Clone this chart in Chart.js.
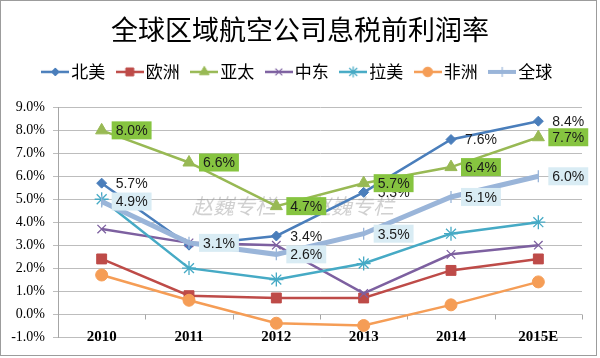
<!DOCTYPE html>
<html><head><meta charset="utf-8">
<script src="https://cdn.jsdelivr.net/npm/chart.js@4/dist/chart.umd.min.js"></script>
<style>html,body{margin:0;padding:0;background:#fff}#wrap{width:600px;height:358px}</style>
</head><body><div id="wrap"><canvas id="c" width="600" height="358"></canvas></div>
<script>
const categories = ['2010','2011','2012','2013','2014','2015E'];
const seriesNames = ['北美','欧洲','亚太','中东','拉美','非洲','全球'];
const northAmerica = [5.7, 3.0, 3.4, 5.3, 7.6, 8.4];
const europe       = [2.4, 0.8, 0.7, 0.7, 1.9, 2.4];
const asiaPacific  = [8.0, 6.6, 4.7, 5.7, 6.4, 7.7];
const middleEast   = [3.7, 3.1, 3.0, 0.9, 2.6, 3.0];
const latinAmerica = [5.0, 2.0, 1.5, 2.2, 3.5, 4.0];
const africa       = [1.7, 0.6, -0.4, -0.5, 0.4, 1.4];
const world        = [4.9, 3.1, 2.6, 3.5, 5.1, 6.0];
const yTicks = [-1,0,1,2,3,4,5,6,7,8,9];
const titleText = '全球区域航空公司息税前利润率';
const watermark = '赵巍专栏';

const seriesValues = [northAmerica, europe, asiaPacific, middleEast, latinAmerica, africa, world];
const colors = ['#4a7ebb','#be4b48','#98b954','#7d60a0','#46aac5','#f59d56','#9ab5d9'];
const styles = [
  {ps:'rectRot', r:5, bw:2.5},
  {ps:'rect', r:7, bw:2.5},
  {ps:'triangle', r:7, bw:2.5},
  {ps:'crossRot', r:6, bw:2.5},
  {ps:'star', r:7, bw:2.5},
  {ps:'circle', r:6, bw:2.5},
  {ps:'line', r:6, bw:5, rot:90}
];

function legendImage(i){
  const cv = document.createElement('canvas');
  cv.width = 28; cv.height = 16;
  const ctx = cv.getContext('2d');
  ctx.strokeStyle = colors[i];
  ctx.lineWidth = i===6 ? 4 : 2.5;
  ctx.beginPath(); ctx.moveTo(0,8); ctx.lineTo(28,8); ctx.stroke();
  const s = styles[i];
  ctx.fillStyle = colors[i];
  ctx.strokeStyle = colors[i];
  ctx.lineWidth = (s.ps==='crossRot'||s.ps==='star'||s.ps==='line') ? 1.2 : 1;
  Chart.helpers.drawPoint(ctx, {pointStyle:s.ps, radius: i===6?5:s.r*0.8, rotation:s.rot||0, borderWidth:ctx.lineWidth}, 14, 8);
  return cv;
}

const datasets = seriesValues.map((vals,i)=>({
  label: seriesNames[i],
  data: vals,
  borderColor: colors[i],
  backgroundColor: colors[i],
  borderWidth: styles[i].bw,
  pointStyle: styles[i].ps,
  pointRadius: styles[i].r,
  pointRotation: styles[i].rot||0,
  pointBorderWidth: (styles[i].ps==='crossRot'||styles[i].ps==='star'||styles[i].ps==='line')?1.3:1,
  tension: 0,
  order: 7-i
}));

const labelPlugin = {
  id:'labels',
  beforeLayout(chart){
    const lg = chart.legend;
    if(lg && !lg._gapPatched){
      const f = lg.fit;
      lg.fit = function(){ f.call(this); this.height += 17; };
      lg._gapPatched = true;
    }
  },
  afterLayout(chart){
    const xs = chart.scales.x;
    xs.top = chart.chartArea.bottom - 10;
  },
  beforeDatasetsDraw(chart){
    const ctx = chart.ctx, a = chart.chartArea;
    ctx.save();
    ctx.font = 'italic 21px "Noto Sans CJK SC"';
    ctx.fillStyle = 'rgba(150,150,150,0.45)';
    ctx.textBaseline = 'middle';
    ctx.fillText(watermark, 192, 206);
    ctx.fillText(watermark, 310, 206);
    const ys = chart.scales.y;
    const y0 = ys.getPixelForValue(0);
    ctx.strokeStyle = '#a6a6a6'; ctx.lineWidth = 1;
    ctx.beginPath();
    for(let k=0;k<=categories.length;k++){
      const px = Math.round(a.left + (a.right-a.left)*k/categories.length)+0.5;
      ctx.moveTo(px, Math.round(y0)+0.5); ctx.lineTo(px, Math.round(y0)+5.5);
    }
    ctx.stroke();
    ctx.restore();
  },
  afterDatasetsDraw(chart){
    const ctx = chart.ctx;
    ctx.save();
    ctx.font = '14px "Liberation Sans", Arial';
    ctx.textBaseline = 'middle';
    const draw = (di, bg) => {
      const meta = chart.getDatasetMeta(di);
      meta.data.forEach((pt,k)=>{
        const txt = seriesValues[di][k].toFixed(1)+'%';
        const w = ctx.measureText(txt).width;
        const x = pt.x + 10, y = pt.y;
        if(bg){
          ctx.fillStyle = bg;
          ctx.fillRect(x, y-9, w+8, 18);
        }
        ctx.fillStyle = '#1a1a1a';
        ctx.fillText(txt, x+4, y+1);
      });
    };
    draw(0, null);
    draw(2, '#86c440');
    draw(6, '#d9ecf4');
    ctx.strokeStyle = '#9c9c9c'; ctx.lineWidth = 1;
    ctx.strokeRect(0.5,0.5,596,355);
    ctx.restore();
  }
};

new Chart(document.getElementById('c'), {
  type:'line',
  data:{labels:categories, datasets},
  options:{
    responsive:false, animation:false,
    layout:{padding:{left:0,right:0,top:0,bottom:2}},
    plugins:{
      title:{display:true, text:titleText, color:'#000',
        font:{family:'"Noto Sans CJK SC"', size:27, weight:'normal'}, padding:{top:14,bottom:0}},
      legend:{display:true, position:'top',
        labels:{usePointStyle:true, pointStyleWidth:15, boxHeight:16, padding:17, color:'#000',
          font:{family:'"Noto Sans CJK SC"', size:17},
          generateLabels(chart){
            return seriesNames.map((n,i)=>({text:n, pointStyle:legendImage(i), datasetIndex:i, hidden:false, fontColor:'#000', lineWidth:0, strokeStyle:'transparent', fillStyle:'transparent'}));
          }}},
      tooltip:{enabled:false}
    },
    scales:{
      x:{offset:true, grid:{display:false, drawTicks:false}, border:{display:false},
        ticks:{padding:1, color:'#000', font:{family:'"Liberation Serif"', size:15, weight:'bold'}},
        afterFit(s){ s.height = 19; }},
      y:{min:-1, max:9,
        afterBuildTicks(s){ s.ticks = yTicks.map(v=>({value:v})); },
        grid:{color:'#bdbdbd', tickLength:5, lineWidth:1},
        border:{display:true, color:'#a6a6a6'},
        ticks:{padding:8, color:'#000', font:{family:'"Liberation Serif"', size:14},
          callback:v=>v.toFixed(1)+'%'},
        afterFit(s){ s.width = 58; }},
      y2:{position:'right', min:0, max:1, grid:{display:false, drawTicks:false}, border:{display:false},
        ticks:{display:false}, afterFit(s){ s.width = 18; }}
    }
  },
  plugins:[labelPlugin]
});
</script></body></html>
